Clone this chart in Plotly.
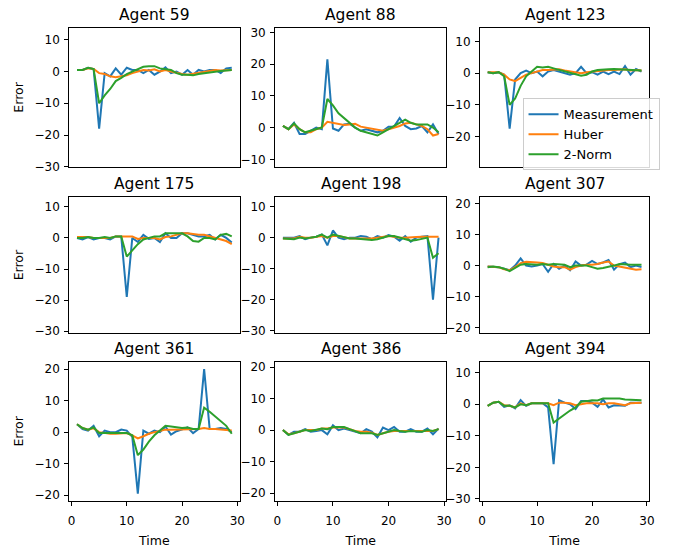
import plotly.graph_objects as go

time = list(range(1, 30))
agents = [59, 88, 123, 175, 198, 307, 361, 386, 394]

m59 = [0.5, 0.5, 1.2, 0.8, -18, -0.5, -1.5, 1, -1, 1.2, 0.5, 0.5, -0.5, 0.5, -1, 0, 1.3, -0.5, 0, -1, 0.5, -1, 0.5, 0, 0.5, 0.5, -0.5, 1, 1.2]
h59 = [0.5, 0.5, 1, 0.8, -0.5, -0.8, -1.5, -1.8, -1.5, -1.2, -0.5, 0, 0.5, 0.3, 0.7, 0, 0.5, 0, -0.5, -0.8, -1, -0.7, -0.3, 0, 0.2, 0.5, 0.3, 0.3, 0.5]
n59 = [0.5, 0.5, 1.2, 0.8, -10, -7.5, -5.5, -3, -2, -0.8, 0, 0.8, 1.5, 1.7, 1.7, 1, 0.8, 0.5, -0.5, -1, -1, -1.2, -0.8, -0.5, -0.3, 0, 0.2, 0.3, 0.5]

m88 = [0.5, -0.5, 1.5, -2, -2, -1, 0, -0.5, 21.5, -0.3, -1, 1, 1.2, 0, -1, -0.5, -1, -1.5, -1, 0.3, 0.3, 3, 0.5, -0.5, -0.3, 0.5, -1.5, 1, -2]
h88 = [0.5, -0.5, 1, -0.5, -1.5, -1.5, -0.5, 0, 1.8, 1.5, 1, 0.8, 1, 1.2, 0.3, 0, -0.3, -0.5, -1, -0.5, 0, 0.5, 1.3, 1.5, 1, 0.5, -0.5, -2.5, -2]
n88 = [0.5, -0.5, 1.3, -0.5, -1.5, -1, -0.5, 0, 9, 7, 4.5, 3, 1.5, 0, -1, -1.5, -2, -2.5, -1.5, -0.5, 0.5, 1.5, 2.5, 1.5, 1, 1, 1, 0, -1.5]

m123 = [0.3, 0, 0.3, -0.5, -17.5, -2, 0, 0.8, 0, 0.5, -1, 0.5, 1, 0.5, 0, -0.5, 0, 2, 0, 0.3, -0.5, 0.5, -0.3, 0.5, -0.3, 2.2, -0.5, 1.3, 0.5]
h123 = [0.3, 0.2, 0.3, -0.5, -2, -2.5, -1.5, -0.5, 0, 0.5, 1, 1, 1.2, 1.2, 0.8, 0.5, 0.2, 0, 0.3, 0.5, 0.5, 0.8, 1, 1, 1, 1.2, 0.8, 1, 0.8]
n123 = [0.3, 0, 0.3, -1, -10, -8, -4, -1, 0.5, 2, 1.8, 2, 1.5, 1, 0.5, 0, -0.5, -0.8, -0.5, 0.5, 1, 1, 1.2, 1.3, 1.2, 1, 1, 0.8, 0.8]

m175 = [0, -0.5, 0.3, -0.5, 0, 0, -0.5, 0.5, 0.5, -19, 0, -1.3, 1, -0.3, 0, -1.3, 1.5, 0, 0, 1.5, 1.5, 1, 0.5, 0.5, 1, -0.5, 1, 0, -1.5]
h175 = [0.3, 0.3, 0.3, 0, 0, 0, 0, 0.5, 0.5, 0.5, 0.5, -0.3, 0, 0, 0, -0.5, 0.3, 0.5, 1, 1.5, 1.5, 1.2, 1, 1, 0.5, 0, -0.5, -1, -2]
n175 = [0, 0, 0.3, 0, 0, 0.3, 0, 0.5, 0.5, -6, -4, -2, -0.5, 0, 0.5, 0.5, 1.5, 1.5, 1.5, 1.5, 0.5, -1, -1.2, 0, 0, -0.5, 1, 1.3, 0.5]

m198 = [0, 0, 0, 0.5, -0.5, 0, 0.3, 1, -2.5, 2.3, 0, -0.5, 0, 0, 0.5, 0.3, -0.5, 0.5, 0, 0.8, 0.3, -1, 0.5, -1.3, 0, 0.3, 0.5, -20, 0]
h198 = [-0.3, -0.3, -0.3, 0.3, 0, 0, 0.3, 0.5, 0, 0.5, 0.5, 0, -0.3, -0.3, -0.3, -0.5, -0.3, 0, 0.3, 0.5, 0.3, 0, 0, 0, 0.2, 0.3, 0.3, 0.2, 0.3]
n198 = [-0.3, -0.5, -0.5, 0, -0.3, 0, 0.3, 1, 0, 1, 0.5, 0, -0.3, -0.3, -0.5, -0.5, -0.8, -0.5, 0, 0.5, 0.5, 0, -0.5, -1, -0.8, -0.5, 0, -6.5, -5]

m307 = [-0.3, -0.3, -0.5, -1, -1.5, 0, 2.3, 0, -0.3, 0, 0.5, -2, 0.5, -1, 0, -1.5, 1.3, 0, 0.3, 1.5, 0.5, 1, 1.8, -1.3, 0.5, 1, -0.5, 0, -0.5]
h307 = [-0.3, -0.3, -0.5, -1.2, -1.5, -0.5, 0.8, 1.2, 1.2, 1, 0.8, 0.3, -0.3, -0.5, -0.5, -1.3, -0.5, 0, 0.3, 0.3, 0.5, 1, 1.3, 0, -0.3, -0.5, -1, -1.3, -1.2]
n307 = [-0.5, -0.3, -0.5, -1, -1.8, -0.8, 0.3, 0.5, 0.3, 0.3, 0.5, 0.3, 0.5, 0.3, 0.3, -0.5, 0, 0, 0, -0.5, -1, -0.8, -0.5, 0, 0.5, 0.3, 0.3, 0.3, 0.3]

m361 = [2.5, 1, 0.5, 2, -1.3, 0.5, 0, 0, 0.8, 0.5, -1.5, -19.5, 0.5, -0.5, 0.5, 0, 1.8, -0.8, 0.3, 1, 1.5, -0.3, 1, 20, 1, 1, 1.3, 1, 0]
h361 = [2.5, 1.3, 0.8, 1.2, 0, -0.3, -0.5, -0.5, -0.5, -0.3, -1, -2, -1.3, -0.5, 0, 0.3, 0.8, 0.8, 0.8, 1, 1, 1, 1, 1.3, 1, 1, 0.8, 0.8, 0.5]
n361 = [2.5, 1.3, 0.8, 1.5, -0.3, -0.3, -0.5, -0.5, -0.3, -0.3, -1, -7.3, -5.5, -3, -1, 0.5, 2, 1.8, 1.5, 1.3, 1.5, 1, 1, 7.8, 6.5, 5, 3.5, 2, -0.5]

m386 = [0, -1.5, -0.5, -0.5, 0.3, -0.5, -0.3, 0, -1.3, 1.5, 0, 0.5, 0, -0.5, -1, 0.3, -0.5, -2.3, 0.8, 0, 1, -0.5, -0.5, 0.3, -0.5, -0.5, 0.5, -1.3, 0.5]
h386 = [0, -1.3, -1, -0.5, 0, 0, 0, 0.5, 0.5, 0.8, 0.8, 0.8, 0.3, -0.3, -0.5, -0.5, -0.8, -1.5, -1, -0.5, -0.3, -0.3, -0.5, -0.5, -0.5, -0.5, -0.3, -0.3, 0.3]
n386 = [0, -1.5, -1, -0.5, 0, -0.3, 0, 0.5, 0.3, 1, 1, 1, 0.3, -0.3, -1, -1, -1, -1.5, -1, -0.5, 0, -0.3, -0.5, -0.3, -0.5, -0.5, 0, -0.3, 0.3]

m394 = [-0.5, 0.5, 0.8, -0.8, -0.3, -1.3, 1.3, -0.5, 0.3, 0.3, 0.3, -1, -19, 1.3, 0.5, 0, -1.5, 1, 1, 0.5, -0.8, 1.5, -1, -0.3, -0.3, -0.5, 0.5, 0.5, 0.5]
h394 = [-0.5, 0.5, 0.8, -0.3, -0.5, -1, 0.3, -0.3, 0.3, 0.3, 0.5, 0.3, -0.3, 0.5, 0.5, 0.3, -0.3, 0, 0.3, 0.3, 0.3, 0, 0.3, 0.3, 0, -0.3, 0.3, 0.5, 0.5]
n394 = [-0.5, 0.5, 0.8, -0.5, -0.5, -1, 0, -0.3, 0.3, 0.3, 0.5, 0.3, -5.8, -4.5, -3, -2, -1, 0.8, 1, 1.3, 1.2, 1.8, 1.8, 1.8, 1.8, 1.5, 1.5, 1.5, 1.3]

measurement = [m59, m88, m123, m175, m198, m307, m361, m386, m394]
huber = [h59, h88, h123, h175, h198, h307, h361, h386, h394]
twonorm = [n59, n88, n123, n175, n198, n307, n361, n386, n394]

series_names = ["Measurement", "Huber", "2-Norm"]
colors = ["#1f77b4", "#ff7f0e", "#2ca02c"]

W, H = 673, 551
col_px = [(68, 240), (276, 449), (483, 654)]
row_px = [(26, 168), (198, 337), (366, 507)]

FONT = "DejaVu Sans"
fig = go.Figure()
layout = dict(
    width=W, height=H,
    margin=dict(l=0, r=0, t=0, b=0),
    paper_bgcolor="white", plot_bgcolor="white",
    font=dict(family=FONT, size=12, color="black"),
    showlegend=True,
    legend=dict(x=526 / W, y=1 - 98 / H, xanchor="left", yanchor="top",
                bgcolor="rgba(255,255,255,0.85)", bordercolor="#cccccc", borderwidth=1,
                font=dict(family=FONT, size=13, color="black"),
                tracegroupgap=0, itemwidth=30),
    annotations=[],
)

for i, agent in enumerate(agents):
    r, c = divmod(i, 3)
    k = i + 1
    xa = "xaxis" if k == 1 else f"xaxis{k}"
    ya = "yaxis" if k == 1 else f"yaxis{k}"
    xr = "x" if k == 1 else f"x{k}"
    yr = "y" if k == 1 else f"y{k}"
    for s, data in enumerate([measurement[i], huber[i], twonorm[i]]):
        fig.add_trace(go.Scatter(
            x=time, y=data, mode="lines", name=series_names[s],
            line=dict(color=colors[s], width=2),
            xaxis=xr, yaxis=yr, showlegend=(i == 2), legendgroup=series_names[s],
        ))
    allv = measurement[i] + huber[i] + twonorm[i]
    mid = (max(allv) + min(allv)) / 2
    x0, x1 = col_px[c]
    y0, y1 = row_px[r]
    common = dict(showline=True, linecolor="black", linewidth=1, mirror=True,
                  ticklen=4, tickwidth=1, tickcolor="black",
                  showgrid=False, zeroline=False,
                  tickfont=dict(family=FONT, size=12, color="black"))
    layout[xa] = dict(common, domain=[x0 / W, x1 / W], range=[-0.4, 30.4],
                      tickvals=[0, 10, 20, 30], anchor=yr,
                      ticks="outside" if r == 2 else "",
                      showticklabels=(r == 2), ticklabelstandoff=5,
                      title=dict(text="Time" if r == 2 else "", standoff=9,
                                 font=dict(family=FONT, size=12.5, color="black")))
    layout[ya] = dict(common, domain=[1 - y1 / H, 1 - y0 / H], range=[mid - 22, mid + 22],
                      dtick=10, tick0=0, anchor=xr, ticks="outside", ticklabelstandoff=2,
                      title=dict(text="Error" if c == 0 else "", standoff=8,
                                 font=dict(family=FONT, size=12.5, color="black")))
    layout["annotations"].append(dict(
        text=f"Agent {agent}", xref=f"{xr} domain", yref=f"{yr} domain",
        x=0.5, y=1, xanchor="center", yanchor="bottom", yshift=2, showarrow=False,
        font=dict(family=FONT, size=15.5, color="black")))

fig.update_layout(**layout)
fig.write_html("out.html")
